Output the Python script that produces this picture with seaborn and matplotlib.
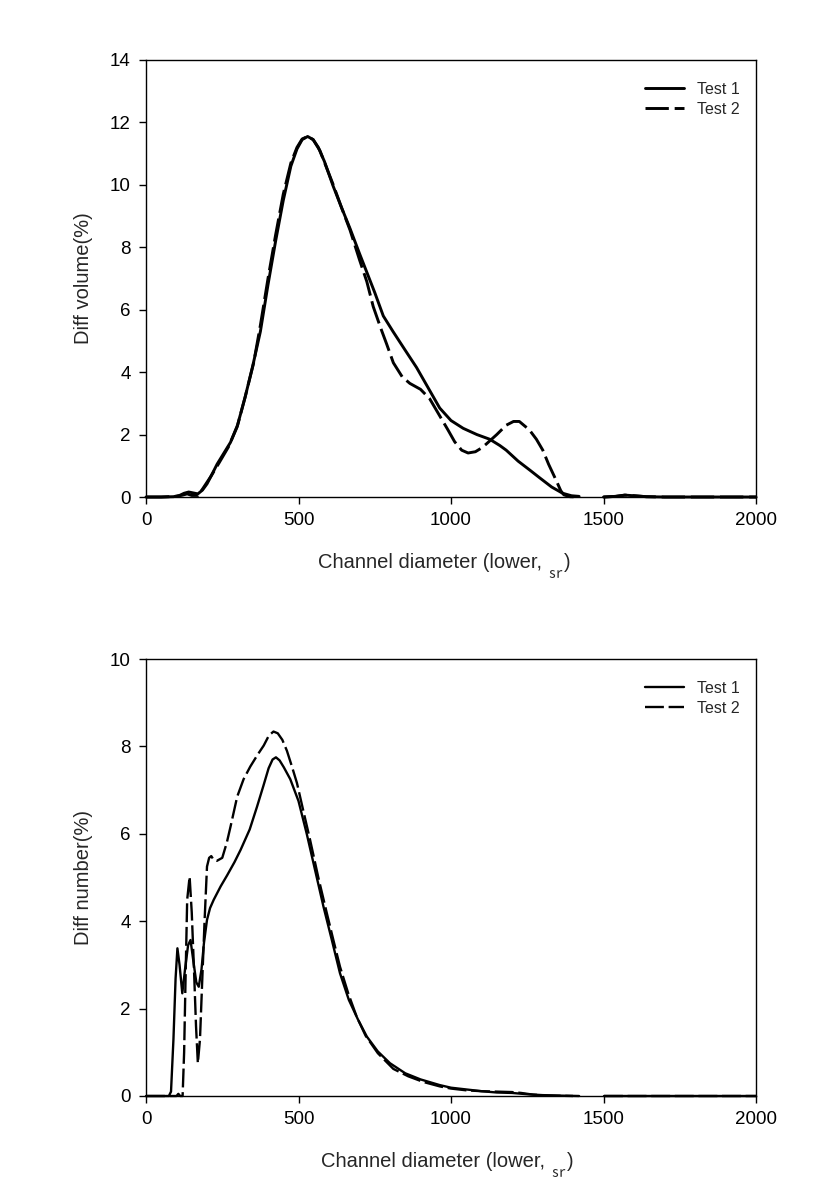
import numpy as np
import pandas as pd
import seaborn as sns
import matplotlib
matplotlib.use("Agg")
import matplotlib.pyplot as plt

# ---------------- data ----------------
# Top panel: Diff volume (%)
vol_t1_x = [0, 50, 90, 110, 125, 140, 155, 170, 185, 200, 215, 233, 255, 277, 300, 325, 350, 375,
            400, 425, 450, 475, 495, 512, 530, 548, 565, 585, 614, 640, 669, 700, 724, 750, 778, 810,
            850, 887, 925, 963, 1000, 1040, 1085, 1127, 1160, 1181, 1220, 1260, 1290, 1330, 1366,
            1395, 1420]
vol_t1_y = [0, 0, 0.01, 0.05, 0.12, 0.16, 0.13, 0.10, 0.22, 0.42, 0.70, 1.05, 1.40, 1.75, 2.30, 3.20,
            4.20, 5.30, 6.80, 8.20, 9.50, 10.60, 11.15, 11.45, 11.55, 11.45, 11.20, 10.75, 9.95, 9.30,
            8.60, 7.80, 7.20, 6.55, 5.80, 5.30, 4.70, 4.15, 3.50, 2.85, 2.45, 2.20, 2.00, 1.85, 1.65,
            1.50, 1.15, 0.85, 0.62, 0.32, 0.12, 0.04, 0.02]
vol_t2_x = [0, 50, 100, 120, 135, 150, 170, 185, 212, 240, 270, 299, 325, 353, 375, 400, 425, 450,
            475, 495, 512, 530, 548, 570, 614, 640, 669, 700, 724, 745, 770, 789, 811, 840, 865, 900,
            930, 963, 990, 1012, 1035, 1056, 1080, 1100, 1116, 1150, 1181, 1205, 1224, 1257, 1280,
            1301, 1320, 1344, 1360, 1370, 1390, 1420]
vol_t2_y = [0, 0, 0.02, 0.06, 0.10, 0.05, 0.05, 0.25, 0.65, 1.10, 1.60, 2.25, 3.20, 4.30, 5.50, 7.00,
            8.40, 9.70, 10.70, 11.20, 11.47, 11.55, 11.45, 11.10, 10.00, 9.30, 8.55, 7.60, 6.90, 6.10,
            5.40, 4.90, 4.30, 3.85, 3.64, 3.45, 3.15, 2.60, 2.15, 1.77, 1.50, 1.41, 1.45, 1.57, 1.70,
            2.00, 2.30, 2.42, 2.42, 2.15, 1.85, 1.50, 1.05, 0.55, 0.20, 0.07, 0.01, 0.0]
tail_x = [1500, 1540, 1570, 1600, 1640, 1700, 2000]
vol_tail_y = [0, 0.02, 0.06, 0.04, 0.01, 0, 0]

# Bottom panel: Diff number (%)
num_t1_x = [0, 50, 75, 82, 90, 97, 103, 110, 119, 128, 138, 146, 155, 165, 173, 182, 190, 200, 210,
            222, 245, 266, 290, 310, 340, 364, 385, 402, 415, 426, 438, 452, 473, 500, 527, 555, 582,
            610, 636, 665, 695, 724, 760, 800, 850, 900, 963, 1000, 1050, 1100, 1150, 1200, 1250,
            1300, 1350, 1420]
num_t1_y = [0, 0, 0, 0.10, 1.30, 2.69, 3.38, 3.00, 2.35, 2.90, 3.45, 3.57, 3.10, 2.60, 2.50, 2.90,
            3.50, 4.03, 4.30, 4.49, 4.80, 5.05, 5.35, 5.63, 6.10, 6.62, 7.10, 7.50, 7.70, 7.75, 7.68,
            7.52, 7.25, 6.75, 6.00, 5.15, 4.33, 3.55, 2.81, 2.20, 1.75, 1.36, 1.02, 0.75, 0.52, 0.38,
            0.25, 0.19, 0.15, 0.11, 0.08, 0.07, 0.04, 0.02, 0.01, 0.0]
num_t2_x = [0, 100, 106, 112, 120, 125, 130, 135, 143, 150, 157, 164, 170, 177, 184, 192, 200, 207,
            214, 222, 232, 250, 265, 277, 299, 320, 342, 365, 386, 403, 418, 432, 447, 462, 478, 495,
            515, 538, 565, 593, 615, 636, 663, 691, 720, 760, 811, 860, 910, 963, 1000, 1050, 1100,
            1150, 1200, 1230, 1270, 1320, 1400]
num_t2_y = [0, 0, 0.05, 0.0, 0.0, 1.00, 2.80, 4.49, 5.02, 4.20, 2.96, 1.60, 0.75, 1.30, 2.58, 4.00,
            5.25, 5.45, 5.49, 5.40, 5.38, 5.45, 5.80, 6.16, 6.85, 7.25, 7.54, 7.80, 8.02, 8.25, 8.34,
            8.30, 8.15, 7.90, 7.55, 7.16, 6.55, 5.86, 5.00, 4.18, 3.55, 2.96, 2.35, 1.81, 1.38, 0.98,
            0.62, 0.45, 0.32, 0.22, 0.17, 0.13, 0.11, 0.10, 0.09, 0.07, 0.03, 0.01, 0.0]
num_tail_y = [0, 0, 0, 0, 0, 0, 0]

series_names = ["Test 1", "Test 2"]
x_ticks = [0, 500, 1000, 1500, 2000]
vol_ticks = [0, 2, 4, 6, 8, 10, 12, 14]
num_ticks = [0, 2, 4, 6, 8, 10]
x_label_main = "Channel diameter (lower, "
unit_glyph = "\u33db"
vol_label = "Diff volume(%)"
num_label = "Diff number(%)"


def build(t1x, t1y, t2x, t2y, taily):
    rows = []
    for name, xs, ys in [("Test 1", t1x, t1y), ("Test 2", t2x, t2y)]:
        for x, y in zip(xs, ys):
            rows.append((x, y, name, name + "a"))
        for x, y in zip(tail_x, taily):
            rows.append((x, y, name, name + "b"))
    return pd.DataFrame(rows, columns=["x", "y", "test", "seg"])


df_vol = build(vol_t1_x, vol_t1_y, vol_t2_x, vol_t2_y, vol_tail_y)
df_num = build(num_t1_x, num_t1_y, num_t2_x, num_t2_y, num_tail_y)

# ---------------- styling ----------------
sns.set_style("ticks")
plt.rcParams["font.family"] = ["Liberation Sans", "DejaVu Sans"]
plt.rcParams["axes.linewidth"] = 1.0
plt.rcParams["xtick.major.width"] = 1.0
plt.rcParams["ytick.major.width"] = 1.0
plt.rcParams["xtick.major.size"] = 5
plt.rcParams["ytick.major.size"] = 5
plt.rcParams["xtick.direction"] = "out"
plt.rcParams["ytick.direction"] = "out"
plt.rcParams["axes.edgecolor"] = "black"
plt.rcParams["xtick.color"] = "black"
plt.rcParams["ytick.color"] = "black"

fig = plt.figure(figsize=(8.3, 11.88), dpi=100)
W, H = 830, 1188
left, right = 146 / W, 756 / W
ax1 = fig.add_axes([left, 1 - 497 / H, right - left, (497 - 60) / H])
ax2 = fig.add_axes([left, 1 - 1096 / H, right - left, (1096 - 659) / H])

pal = {"Test 1": "black", "Test 2": "black"}
dsh = {"Test 1": "", "Test 2": (8, 2)}

panels = [
    (ax1, df_vol, vol_ticks, 14, vol_label, 2.1, 0.95, 318),
    (ax2, df_num, num_ticks, 10, num_label, 1.7, 0.95, 321),
]

label_texts = []
for ax, df, yt, ymax, ylab, lw, legy, lab_x in panels:
    sns.lineplot(data=df, x="x", y="y", hue="test", style="test", units="seg",
                 estimator=None, sort=False, palette=pal, dashes=dsh,
                 linewidth=lw, ax=ax, clip_on=False)
    ax.set_xlim(0, 2000)
    ax.set_ylim(0, ymax)
    ax.set_xticks(x_ticks)
    ax.set_yticks(yt)
    ax.tick_params(labelsize=13.5, pad=6)
    for s in ax.spines.values():
        s.set_visible(True)
        s.set_color("black")
        s.set_linewidth(1.0)
    ax.set_ylabel(ylab, fontsize=14.5, labelpad=12)
    ax.set_xlabel("")
    h, l = ax.get_legend_handles_labels()
    hl = [(hh, ll) for hh, ll in zip(h, l) if ll in series_names]
    ax.legend([p[0] for p in hl], [p[1] for p in hl], loc="upper right",
              bbox_to_anchor=((740 - 146) / 610, legy), frameon=False,
              fontsize=11.5, handlelength=2.5, handletextpad=0.8,
              labelspacing=0.3, borderpad=0, borderaxespad=0)
    t = ax.text((lab_x - 146) / 610, -71 / 437, x_label_main, transform=ax.transAxes,
                ha="left", va="baseline", fontsize=14.5)
    label_texts.append((ax, t))

fig.canvas.draw()
renderer = fig.canvas.get_renderer()
for ax, t in label_texts:
    bb = t.get_window_extent(renderer)
    base = ax.transAxes.transform((0, -71 / 437))[1]
    gx, gy = fig.transFigure.inverted().transform((bb.x1 + 1, base + 1))
    g = fig.text(gx, gy, unit_glyph, ha="left", va="top", fontsize=10,
                 family=["Noto Sans CJK KR", "DejaVu Sans"])
    gb = g.get_window_extent(renderer)
    px, py = fig.transFigure.inverted().transform((gb.x1 + 1, base))
    fig.text(px, py, ")", ha="left", va="baseline", fontsize=14.5)

fig.savefig("out.png", dpi=100)
